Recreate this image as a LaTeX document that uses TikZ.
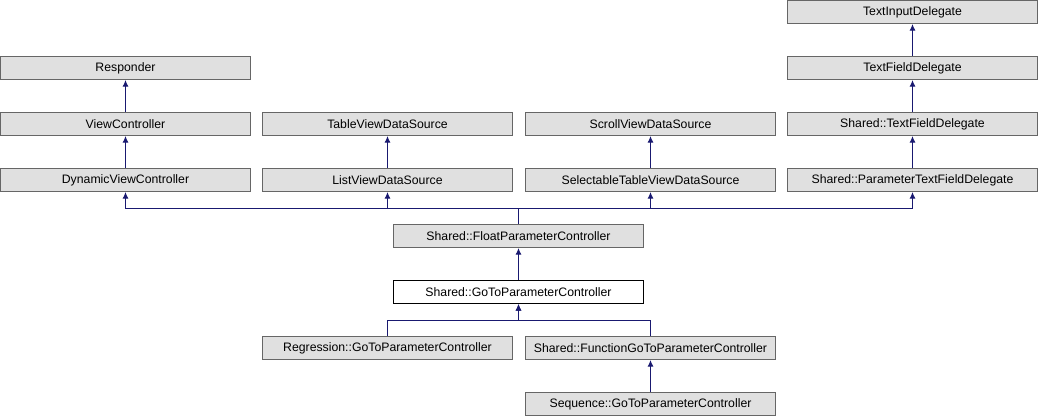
\documentclass[tikz,border=0pt]{standalone}
\usepackage{fontspec}
\setmainfont{Liberation Sans}
\usetikzlibrary{arrows.meta}
\definecolor{box-gray}{RGB}{224,224,224}
\definecolor{edge-gray}{RGB}{102,102,102}
\definecolor{link-blue}{RGB}{25,25,112}

\begin{document}
\begin{tikzpicture}[x=0.75pt, y=-0.75pt,
    cls/.style={draw=edge-gray, fill=box-gray, line width=0.75pt, minimum width=187.5pt, minimum height=17.25pt, inner sep=0pt, font=\fontsize{9.2}{10}\selectfont},
    cur/.style={cls, draw=black, fill=white},
    inh/.style={draw=link-blue, line width=0.75pt, -{Latex[length=5pt,width=4.5pt]}}]
                \useasboundingbox (0, 0) rectangle (1038, 416);
                % top rows
                \node[cls] (tid) at (912.5, 12) {TextInputDelegate};
                \node[cls] (rsp) at (125.5, 68) {Responder};
                \node[cls] (tfd) at (912.5, 68) {TextFieldDelegate};
                \node[cls] (vc) at (125.5, 124) {ViewController};
                \node[cls] (tvds) at (387.5, 124) {TableViewDataSource};
                \node[cls] (svds) at (650.5, 124) {ScrollViewDataSource};
                \node[cls] (stfd) at (912.5, 124) {Shared::TextFieldDelegate};
                \node[cls] (dvc) at (125.5, 180) {DynamicViewController};
                \node[cls] (lvds) at (387.5, 180) {ListViewDataSource};
                \node[cls] (stvds) at (650.5, 180) {SelectableTableViewDataSource};
                \node[cls] (sptfd) at (912.5, 180) {Shared::ParameterTextFieldDelegate};
                % controllers
                \node[cls] (fpc) at (518.5, 236) {Shared::FloatParameterController};
                \node[cur] (gpc) at (518.5, 292) {Shared::GoToParameterController};
                \node[cls] (rgpc) at (387.5, 348) {Regression::GoToParameterController};
                \node[cls] (fgpc) at (650.5, 348) {Shared::FunctionGoToParameterController};
                \node[cls] (sgpc) at (650.5, 404) {Sequence::GoToParameterController};
                \coordinate (busa) at (518.5, 208.5);
                \coordinate (busb) at (518.5, 320.5);
                % inheritance
                \draw[inh] (tfd) -- (tid);
                \draw[inh] (vc) -- (rsp);
                \draw[inh] (stfd) -- (tfd);
                \draw[inh] (dvc) -- (vc);
                \draw[inh] (lvds) -- (tvds);
                \draw[inh] (stvds) -- (svds);
                \draw[inh] (sptfd) -- (stfd);
                \draw[inh] (fpc.north) -- (busa) -| (dvc.south);
                \draw[inh] (fpc.north) -- (busa) -| (lvds.south);
                \draw[inh] (fpc.north) -- (busa) -| (stvds.south);
                \draw[inh] (fpc.north) -- (busa) -| (sptfd.south);
                \draw[inh] (gpc) -- (fpc);
                \draw[inh] (rgpc.north) |- (busb) -- (gpc.south);
                \draw[inh] (fgpc.north) |- (busb) -- (gpc.south);
                \draw[inh] (sgpc) -- (fgpc);
            \end{tikzpicture}
\end{document}
